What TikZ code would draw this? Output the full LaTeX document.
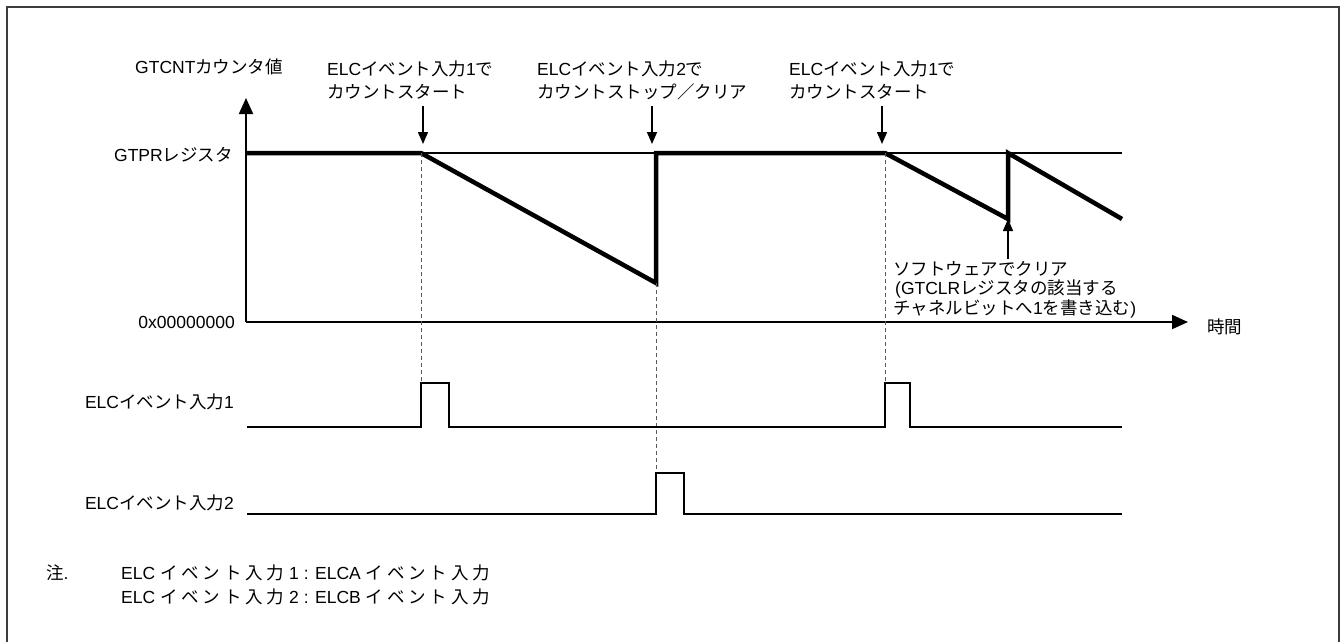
\documentclass[tikz,border=0pt]{standalone}
\usepackage{fontspec}
\setmainfont{Liberation Sans}
\newfontfamily\jpfont{Noto Sans CJK JP}
\newfontfamily\jpwide[LetterSpace=22]{Noto Sans CJK JP}
\newcommand{\ja}[1]{{\jpfont #1}}
\newcommand{\jw}[1]{{\jpwide #1}}
\usepackage{tikz}
\usetikzlibrary{arrows.meta,positioning}
\definecolor{TimFrame}{HTML}{3C3C3C}
\definecolor{TimDash}{HTML}{5A5A5A}

\begin{document}
\begin{tikzpicture}[x=1pt,y=-1pt,
  lbl/.style={font=\fontsize{17.5}{23}\selectfont,inner sep=0pt,align=left},
  axisline/.style={line width=2pt,-{Triangle[length=16pt,width=14pt]}},
  evarrow/.style={line width=1.5pt,-{Triangle[length=12pt,width=10pt]}},
  cntline/.style={line width=4.5pt,line join=miter},
  gtprline/.style={line width=2pt},
  sigline/.style={line width=2.5pt,line join=miter},
  guide/.style={TimDash,line width=1pt,dash pattern=on 4pt off 3pt}]
\useasboundingbox (0,0) rectangle (1341,642);
\draw[TimFrame,line width=2pt] (7,642) -- (7,7) -- (1339,7) -- (1339,642);

% axes
\coordinate (org) at (246,322);
\coordinate (ytop) at (246,98);
\coordinate (xend) at (1188,322);
\draw[axisline] (org) -- (ytop);
\draw[axisline] (org) -- (xend);
\node[lbl,anchor=west] (ylab) at (135,67) {GTCNT\ja{カウンタ値}};
\node[lbl,anchor=west] (tlab) at (1207,327) {\ja{時間}};
\node[lbl,anchor=east] (gtpr) at (233,155) {GTPR\ja{レジスタ}};
\node[lbl,anchor=east] (zero) at (235,322) {0x00000000};

% counter
\coordinate (st1) at (421,153);
\coordinate (lo1) at (656,283);
\coordinate (st2) at (885,153);
\coordinate (lo2) at (1008,219);
\draw[gtprline] (st1) -- (1122,153);
\draw[cntline] (246,153) -- (st1) -- (lo1) -- (656,153) -- (st2) -- (lo2) -- (1008,153) -- (1122,219);

% events
\node[lbl,anchor=west] (ev1) at (327,80) {ELC\ja{イベント入力}1\ja{で}\\\ja{カウントスタート}};
\node[lbl,anchor=west] (ev2) at (537,80) {ELC\ja{イベント入力}2\ja{で}\\\ja{カウントストップ／クリア}};
\node[lbl,anchor=west] (ev3) at (789,80) {ELC\ja{イベント入力}1\ja{で}\\\ja{カウントスタート}};
\draw[evarrow] (423,106) -- (423,144);
\draw[evarrow] (652,106) -- (652,144);
\draw[evarrow] (882,106) -- (882,144);
\node[lbl,anchor=west,font=\fontsize{17.5}{19.5}\selectfont] (swclr) at (893,289.5)
  {\ja{ソフトウェアでクリア}\\\hspace*{2pt}(GTCLR\ja{レジスタの該当する}\\\ja{チャネルビットへ}1\ja{を書き込む})};
\draw[evarrow] (1008,259) -- (lo2);

% pulses
\node[lbl,anchor=east] (in1) at (234,402) {ELC\ja{イベント入力}1};
\node[lbl,anchor=east] (in2) at (234,503) {ELC\ja{イベント入力}2};
\draw[guide] (st1) -- (421,383);
\draw[guide] (lo1) -- (656,473);
\draw[guide] (st2) -- (885,383);
\draw[sigline] (247,427) -- (421,427) -- (421,383) -- (449,383) -- (449,427) -- (885,427) -- (885,383) -- (910,383) -- (910,427) -- (1122,427);
\draw[sigline] (247,514) -- (656,514) -- (656,473) -- (684,473) -- (684,514) -- (1122,514);

% note
\node[lbl,anchor=west] (nmark) at (46,573) {\ja{注}.};
\node[lbl,anchor=west,font=\fontsize{17.5}{24}\selectfont] (ntext) at (121,585)
  {ELC \jw{イベント入力}\ 1 : ELCA \jw{イベント入力}\\ELC \jw{イベント入力}\ 2 : ELCB \jw{イベント入力}};
\end{tikzpicture}
\end{document}
